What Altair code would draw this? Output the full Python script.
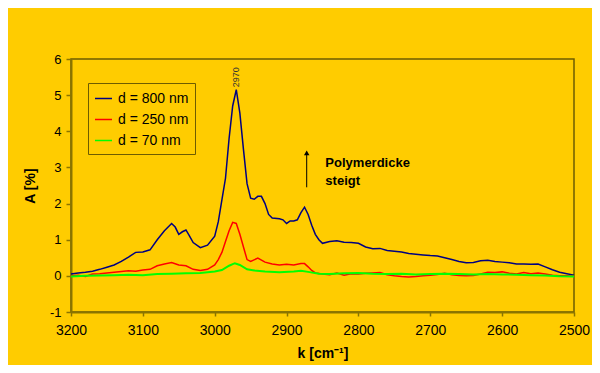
import altair as alt
import pandas as pd

names = ["d = 800 nm", "d = 250 nm", "d = 70 nm"]
colors = ["#000080", "#FF0000", "#00FF00"]
widths = [1.5, 1.5, 2.0]

k_800 = [3200, 3190, 3180, 3170, 3160, 3150, 3140, 3130, 3120, 3110, 3100, 3090, 3080, 3070,
         3060, 3055, 3050, 3045, 3040, 3035, 3030, 3020, 3010, 3000, 2995, 2990, 2985, 2980,
         2975, 2970, 2965, 2960, 2955, 2950, 2945, 2940, 2935, 2930, 2925, 2920, 2910, 2905,
         2900, 2895, 2890, 2885, 2880, 2875, 2870, 2865, 2860, 2855, 2850, 2840, 2830, 2820,
         2810, 2800, 2790, 2780, 2770, 2760, 2750, 2740, 2730, 2720, 2710, 2700, 2690, 2680,
         2670, 2660, 2650, 2640, 2630, 2620, 2610, 2600, 2590, 2580, 2570, 2560, 2550, 2540,
         2530, 2520, 2510, 2500]
a_800 = [0.05, 0.08, 0.10, 0.13, 0.18, 0.24, 0.30, 0.40, 0.52, 0.65, 0.66, 0.72, 1.00, 1.25,
         1.45, 1.35, 1.15, 1.22, 1.27, 1.10, 0.92, 0.78, 0.85, 1.10, 1.50, 2.10, 2.70, 3.80,
         4.70, 5.15, 4.50, 3.50, 2.55, 2.15, 2.12, 2.20, 2.20, 2.00, 1.70, 1.60, 1.58, 1.55,
         1.45, 1.52, 1.52, 1.55, 1.75, 1.90, 1.70, 1.40, 1.15, 1.00, 0.90, 0.95, 0.97, 0.93,
         0.92, 0.90, 0.80, 0.75, 0.76, 0.70, 0.68, 0.66, 0.62, 0.60, 0.58, 0.56, 0.55, 0.50,
         0.45, 0.40, 0.36, 0.37, 0.42, 0.43, 0.40, 0.38, 0.36, 0.33, 0.33, 0.32, 0.33, 0.25,
         0.17, 0.10, 0.06, 0.02]

k_250 = [3200, 3190, 3180, 3170, 3160, 3150, 3140, 3130, 3120, 3110, 3100, 3090, 3080, 3070,
         3060, 3050, 3040, 3030, 3020, 3010, 3000, 2995, 2990, 2985, 2980, 2975, 2970, 2965,
         2960, 2955, 2950, 2940, 2930, 2920, 2910, 2900, 2890, 2880, 2875, 2870, 2865, 2860,
         2850, 2840, 2830, 2820, 2810, 2800, 2790, 2780, 2770, 2760, 2750, 2740, 2730, 2720,
         2710, 2700, 2690, 2680, 2670, 2660, 2650, 2640, 2630, 2620, 2610, 2600, 2590, 2580,
         2570, 2560, 2550, 2540, 2530, 2520, 2510, 2500]
a_250 = [0.00, 0.02, -0.02, 0.05, 0.06, 0.08, 0.10, 0.12, 0.14, 0.13, 0.16, 0.18, 0.28, 0.33,
         0.37, 0.30, 0.28, 0.18, 0.15, 0.18, 0.30, 0.45, 0.65, 0.95, 1.25, 1.48, 1.45, 1.15,
         0.80, 0.45, 0.40, 0.49, 0.38, 0.33, 0.30, 0.32, 0.30, 0.34, 0.34, 0.25, 0.15, 0.08,
         0.05, 0.03, 0.08, 0.02, 0.06, 0.05, 0.07, 0.08, 0.09, 0.03, 0.00, -0.02, -0.03, -0.02,
         0.00, 0.02, 0.04, 0.07, 0.03, 0.01, 0.00, 0.01, 0.05, 0.10, 0.09, 0.11, 0.07, 0.05,
         0.09, 0.06, 0.08, 0.05, 0.02, 0.00, 0.00, -0.01]

k_70 = [3200, 3180, 3160, 3140, 3120, 3100, 3080, 3060, 3040, 3020, 3000, 2990, 2980, 2972,
        2965, 2955, 2945, 2930, 2910, 2890, 2880, 2870, 2855, 2840, 2820, 2800, 2780, 2760,
        2740, 2720, 2700, 2680, 2660, 2640, 2620, 2600, 2580, 2560, 2540, 2520, 2500]
a_70 = [-0.02, 0.00, 0.01, 0.02, 0.03, 0.02, 0.05, 0.06, 0.07, 0.08, 0.12, 0.16, 0.28, 0.35,
        0.30, 0.18, 0.15, 0.12, 0.10, 0.12, 0.14, 0.11, 0.06, 0.05, 0.07, 0.08, 0.06, 0.05,
        0.06, 0.04, 0.05, 0.06, 0.05, 0.04, 0.05, 0.04, 0.03, 0.02, 0.01, -0.01, -0.02]

x_ticks = [3200, 3100, 3000, 2900, 2800, 2700, 2600, 2500]
y_ticks = [-1, 0, 1, 2, 3, 4, 5, 6]

peak_k = [2970]
peak_a = [5.22]
peak_label = ["2970"]

arrow_k = [2872]
arrow_a0 = [2.45]
arrow_a1 = [3.40]
note_k = [2846, 2846]
note_a = [3.12, 2.62]
note_text = ["Polymerdicke", "steigt"]

FONT = "Liberation Sans"
AXC = "#8A7400"

rows = []
for name, w, ks, avals in zip(names, widths, [k_800, k_250, k_70], [a_800, a_250, a_70]):
    for i, (k, a) in enumerate(zip(ks, avals)):
        rows.append({"series": name, "w": w, "k": k, "A": a, "ord": i})
df = pd.DataFrame(rows)

xscale = alt.Scale(domain=[2500, 3200], reverse=True, nice=False, zero=False)
yscale = alt.Scale(domain=[-1, 6], nice=False, zero=False)


def xenc(field):
    return alt.X(field, scale=xscale,
                 axis=alt.Axis(values=x_ticks, title="k [cm⁻¹]", labelExpr="'' + datum.value",
                               labelFlush=False, labelOverlap=False, labelFontSize=14,
                               tickSize=4, labelPadding=7, titlePadding=9))


def yenc(field):
    return alt.Y(field, scale=yscale,
                 axis=alt.Axis(values=y_ticks, title="A [%]", labelExpr="'' + datum.value",
                               labelFlush=False, labelOverlap=False, labelFontSize=13,
                               tickSize=5, labelPadding=5, titlePadding=12))


lines = alt.Chart(df).mark_line().encode(
    x=xenc("k:Q"),
    y=yenc("A:Q"),
    color=alt.Color("series:N", scale=alt.Scale(domain=names, range=colors),
                    legend=alt.Legend(title=None, orient="none", legendX=17, legendY=24,
                                      strokeColor="#6E5C00", padding=6, rowPadding=4,
                                      symbolType="stroke", symbolSize=289,
                                      symbolStrokeWidth=1.5, labelFontSize=14,
                                      labelFont=FONT, labelColor="black", labelOffset=5)),
    strokeWidth=alt.StrokeWidth("w:Q", scale=None, legend=None),
    order="ord:Q",
)

peak = alt.Chart(pd.DataFrame({"k": peak_k, "A": peak_a, "t": peak_label})).mark_text(
    angle=270, align="left", baseline="middle", fontSize=9, font=FONT, color="#333333"
).encode(x=xenc("k:Q"), y=yenc("A:Q"), text="t:N")

arrow_df = pd.DataFrame({"k": arrow_k, "A": arrow_a0, "a1": arrow_a1})
arrow_line = alt.Chart(arrow_df).mark_rule(color="black", strokeWidth=1).encode(
    x=xenc("k:Q"), y=yenc("A:Q"), y2="a1:Q")
arrow_head = alt.Chart(arrow_df).mark_point(shape="triangle-up", filled=True, color="black",
                                            size=30, opacity=1).encode(
    x=xenc("k:Q"), y=yenc("a1:Q"))

notes = alt.Chart(pd.DataFrame({"k": note_k, "A": note_a, "t": note_text})).mark_text(
    align="left", baseline="middle", fontSize=13, fontWeight="bold", font=FONT, color="black"
).encode(x=xenc("k:Q"), y=yenc("A:Q"), text="t:N")

chart = alt.layer(lines, peak, arrow_line, arrow_head, notes).properties(
    width=503, height=253,
    autosize=alt.AutoSizeParams(type="none"),
    padding={"left": 63, "top": 51, "right": 18, "bottom": 53},
    background="#FFCC00",
).configure_view(
    stroke="#6E5C00", strokeWidth=1.5
).configure_axis(
    grid=False, domainColor=AXC, domainWidth=2, tickColor=AXC, tickWidth=1.5,
    labelFont=FONT, labelColor="black", titleFont=FONT, titleFontSize=14,
    titleFontWeight="bold", titleColor="black"
)

chart.save("out.html", embed_options={"renderer": "svg", "actions": False})
